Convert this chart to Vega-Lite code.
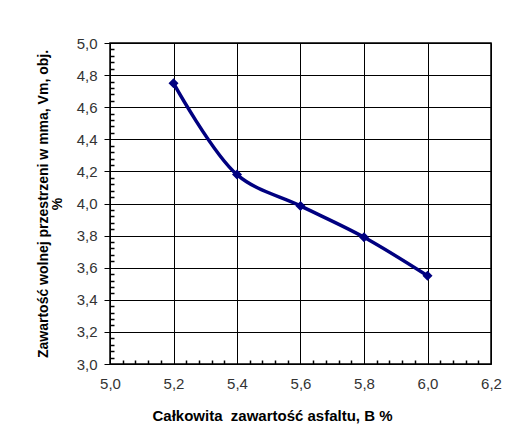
{
  "$schema": "https://vega.github.io/schema/vega-lite/v6.json",
  "width": 381,
  "height": 321,
  "autosize": {"type": "none"},
  "padding": {"left": 110, "top": 43, "right": 19, "bottom": 73},
  "background": "white",
  "config": {
    "font": "Liberation Sans",
    "view": {"stroke": "black", "strokeWidth": 1.5},
    "axis": {"labelFont": "Liberation Sans", "titleFont": "Liberation Sans"}
  },
  "data": {
    "values": [
      {"B": 5.2, "Vm": 4.75},
      {"B": 5.4, "Vm": 4.18},
      {"B": 5.6, "Vm": 3.985},
      {"B": 5.8, "Vm": 3.79},
      {"B": 6.0, "Vm": 3.55}
    ]
  },
  "resolve": {"axis": {"x": "independent", "y": "independent"}},
  "layer": [
    {
      "mark": {"type": "line", "interpolate": "catmull-rom", "color": "#000080", "strokeWidth": 3.5},
      "encoding": {
        "x": {
          "field": "B", "type": "quantitative",
          "scale": {"domain": [5.0, 6.2], "nice": false, "zero": false},
          "axis": {
            "orient": "bottom",
            "values": [5.0, 5.2, 5.4, 5.6, 5.8, 6.0, 6.2],
            "labelExpr": "replace(format(datum.value, '.1f'), '.', ',')",
            "grid": true, "gridColor": "black", "gridOpacity": 1, "gridWidth": 1,
            "domain": false, "ticks": false,
            "labelPadding": 12, "labelFontSize": 15, "labelColor": "#333",
            "labelFlush": false,
            "title": "Całkowita\u00a0 zawartość asfaltu, B %",
            "titleFontSize": 15, "titleFontWeight": "bold", "titleColor": "black",
            "titleX": 162, "titleY": 51, "titleBaseline": "middle", "titleAnchor": "middle"
          }
        },
        "y": {
          "field": "Vm", "type": "quantitative",
          "scale": {"domain": [3.0, 5.0], "nice": false, "zero": false},
          "axis": {
            "orient": "left",
            "values": [3.0, 3.2, 3.4, 3.6, 3.8, 4.0, 4.2, 4.4, 4.6, 4.8, 5.0],
            "labelExpr": "replace(format(datum.value, '.1f'), '.', ',')",
            "grid": true, "gridColor": "black", "gridOpacity": 1, "gridWidth": 1,
            "domain": false, "ticks": true, "tickSize": 6, "tickColor": "black",
            "labelPadding": 7, "labelFontSize": 15, "labelColor": "#333",
            "labelFlush": false,
            "title": ["Zawartość wolnej przestrzeni w mma, Vm, obj.", "%"],
            "titleFontSize": 14, "titleFontWeight": "bold", "titleColor": "black",
            "titlePadding": 12, "titleLineHeight": 14
          }
        }
      }
    },
    {
      "mark": {"type": "point", "shape": "diamond", "filled": true, "color": "#000080", "opacity": 1, "size": 100},
      "encoding": {
        "x": {
          "field": "B", "type": "quantitative",
          "axis": {
            "orient": "bottom",
            "values": [5.04, 5.08, 5.12, 5.16, 5.24, 5.28, 5.32, 5.36, 5.44, 5.48, 5.52, 5.56, 5.64, 5.68, 5.72, 5.76, 5.84, 5.88, 5.92, 5.96, 6.04, 6.08, 6.12, 6.16],
            "labels": false, "grid": false, "domain": false, "title": null,
            "tickSize": -4, "tickColor": "black", "tickWidth": 1.5
          }
        },
        "y": {
          "field": "Vm", "type": "quantitative",
          "axis": {
            "orient": "left",
            "values": [3.04, 3.08, 3.12, 3.16, 3.24, 3.28, 3.32, 3.36, 3.44, 3.48, 3.52, 3.56, 3.64, 3.68, 3.72, 3.76, 3.84, 3.88, 3.92, 3.96, 4.04, 4.08, 4.12, 4.16, 4.24, 4.28, 4.32, 4.36, 4.44, 4.48, 4.52, 4.56, 4.64, 4.68, 4.72, 4.76, 4.84, 4.88, 4.92, 4.96],
            "labels": false, "grid": false, "domain": false, "title": null,
            "tickSize": -4, "tickColor": "black", "tickWidth": 1.5
          }
        }
      }
    }
  ]
}
